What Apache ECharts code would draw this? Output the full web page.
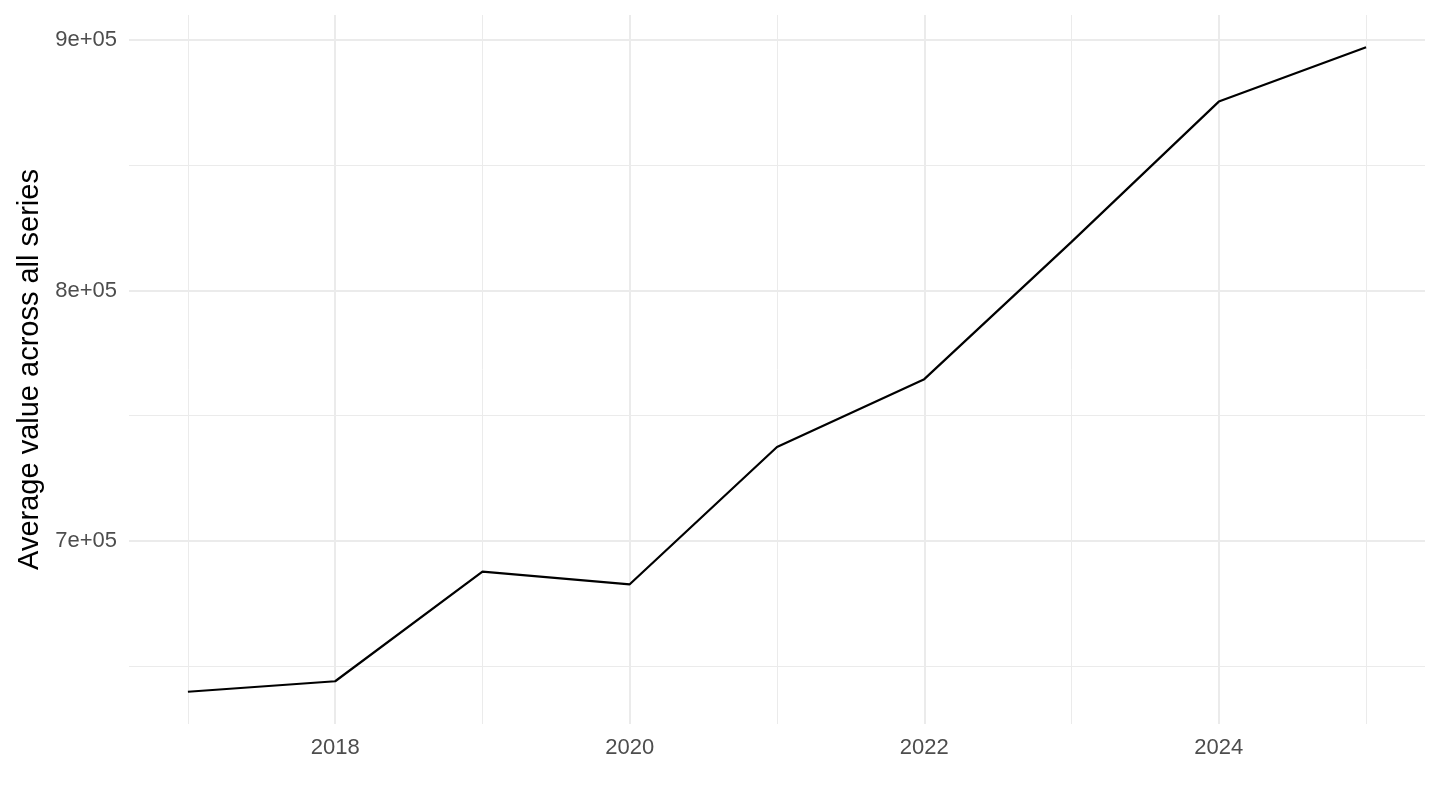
<!DOCTYPE html>
<html>
<head>
<meta charset="utf-8">
<script src="https://cdn.jsdelivr.net/npm/echarts@6/dist/echarts.min.js"></script>
<style>
html,body{margin:0;padding:0;background:#fff;}
#chart{width:1440px;height:810px;}
</style>
</head>
<body>
<div id="chart"></div>
<script>
// Data
const years = [2017, 2018, 2019, 2020, 2021, 2022, 2023, 2024, 2025];
const avgValues = [639800, 644000, 687800, 682700, 737500, 764600, 819400, 875400, 897100];

// Ticks
const xMajorTicks = [2018, 2020, 2022, 2024];
const xMinorTicks = [2017, 2019, 2021, 2023, 2025];
const yMajorTicks = [700000, 800000, 900000];
const yMinorTicks = [650000, 750000, 850000];
const yTickLabels = ['7e+05', '8e+05', '9e+05'];
const yTitle = 'Average value across all series';

// ggplot-style 5% expansion
function expand(arr) {
  const lo = Math.min.apply(null, arr), hi = Math.max.apply(null, arr);
  const pad = (hi - lo) * 0.05;
  return [lo - pad, hi + pad];
}
const xr = expand(years);
const yr = expand(avgValues);

const font = '"Liberation Sans", Arial, Helvetica, sans-serif';
const gridColor = '#EBEBEB';

const chart = echarts.init(document.getElementById('chart'), null, {renderer: 'canvas'});
chart.setOption({
  animation: false,
  backgroundColor: '#ffffff',
  grid: {left: 129, right: 15, top: 15, bottom: 86, containLabel: false},
  xAxis: [
    {
      type: 'value', min: xr[0], max: xr[1],
      axisLine: {show: false},
      axisTick: {show: false, customValues: xMajorTicks},
      axisLabel: {
        customValues: xMajorTicks, color: '#4D4D4D', fontSize: 22,
        fontFamily: font, margin: 13,
        formatter: v => String(v)
      },
      splitLine: {show: true, lineStyle: {color: gridColor, width: 2}}
    },
    {
      type: 'value', min: xr[0], max: xr[1], position: 'bottom',
      axisLine: {show: false},
      axisTick: {show: false, customValues: xMinorTicks},
      axisLabel: {show: false},
      splitLine: {show: true, lineStyle: {color: gridColor, width: 1}}
    }
  ],
  yAxis: [
    {
      type: 'value', min: yr[0], max: yr[1],
      name: yTitle, nameLocation: 'middle', nameRotate: 90, nameGap: 84,
      nameTextStyle: {color: '#000000', fontSize: 29, fontFamily: font},
      axisLine: {show: false},
      axisTick: {show: false, customValues: yMajorTicks},
      axisLabel: {
        customValues: yMajorTicks, color: '#4D4D4D', fontSize: 22,
        fontFamily: font, margin: 12, padding: [4, 0, 0, 0],
        formatter: v => yTickLabels[yMajorTicks.indexOf(Math.round(v))] || ''
      },
      splitLine: {show: true, lineStyle: {color: gridColor, width: 2}}
    },
    {
      type: 'value', min: yr[0], max: yr[1], position: 'left',
      axisLine: {show: false},
      axisTick: {show: false, customValues: yMinorTicks},
      axisLabel: {show: false},
      splitLine: {show: true, lineStyle: {color: gridColor, width: 1}}
    }
  ],
  series: [
    {
      type: 'line',
      xAxisIndex: 0, yAxisIndex: 0,
      data: years.map((y, i) => [y, avgValues[i]]),
      showSymbol: false, symbol: 'none',
      lineStyle: {color: '#000000', width: 2.2},
      itemStyle: {color: '#000000'},
      z: 5
    }
  ]
});
</script>
</body>
</html>
